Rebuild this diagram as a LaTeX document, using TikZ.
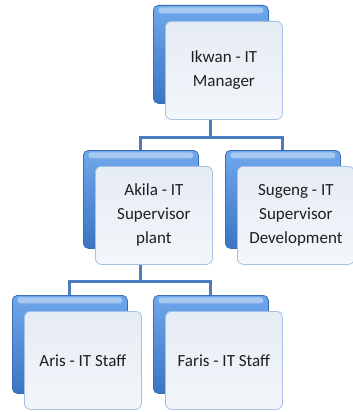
\documentclass[tikz,border=0pt]{standalone}
\usepackage{fontspec}
\setmainfont{Carlito}
\definecolor{backtop}{HTML}{6FA8EC}
\definecolor{backbot}{HTML}{3B74C2}
\definecolor{backline}{HTML}{3A6DB3}
\definecolor{cardtop}{HTML}{E6ECF5}
\definecolor{cardbot}{HTML}{F3F6FA}
\definecolor{cardline}{HTML}{A4C0E4}
\definecolor{linkblue}{HTML}{4C7EBF}
\begin{document}
\begin{tikzpicture}[
    x=1pt,y=-1pt,
    back/.style={draw=backline,line width=.8pt,rounded corners=5pt,
        top color=backtop,bottom color=backbot,anchor=north west,
        minimum width=115pt,minimum height=98pt,inner sep=0pt,
        path picture={\fill[white,opacity=.4,rounded corners=3pt]
            ([xshift=5pt,yshift=-2pt]path picture bounding box.north west)
            rectangle ([xshift=-5pt,yshift=-8pt]path picture bounding box.north east);}},
    card/.style={draw=cardline,line width=.8pt,rounded corners=6pt,
        top color=cardtop,bottom color=cardbot,
        anchor=north west,minimum width=117pt,minimum height=98pt,inner sep=0pt,
        align=center,text=black!88,font=\fontsize{17}{24}\selectfont},
    link/.style={draw=linkblue,line width=3pt}
]
\useasboundingbox (0,0) rectangle (353,412);

% blue back plates
\node[back] (ikwanB) at (153,5) {};
\node[back] (akilaB) at (83,150) {};
\node[back] (sugengB) at (225,150) {};
\node[back] (arisB) at (12,295) {};
\node[back] (farisB) at (153,295) {};

% tree lines
\coordinate (split1) at ([yshift=-34pt]ikwanB.south);
\coordinate (split2) at ([yshift=-33pt]akilaB.south);
\draw[link] (ikwanB.south) -- (split1) -| (akilaB.north);
\draw[link] (split1) -| (sugengB.north);
\draw[link] (akilaB.south) -- (split2) -| (arisB.north);
\draw[link] (split2) -| (farisB.north);

% name cards
\node[card] (ikwan) at ([shift={(12,16)}]ikwanB.north west) {Ikwan - IT\\Manager};
\node[card] (akila) at ([shift={(12,16)}]akilaB.north west) {Akila - IT\\Supervisor\\plant};
\node[card] (sugeng) at ([shift={(12,16)}]sugengB.north west) {Sugeng - IT\\Supervisor\\Development};
\node[card] (aris) at ([shift={(12,16)}]arisB.north west) {Aris - IT Staff};
\node[card] (faris) at ([shift={(12,16)}]farisB.north west) {Faris - IT Staff};
\end{tikzpicture}
\end{document}
